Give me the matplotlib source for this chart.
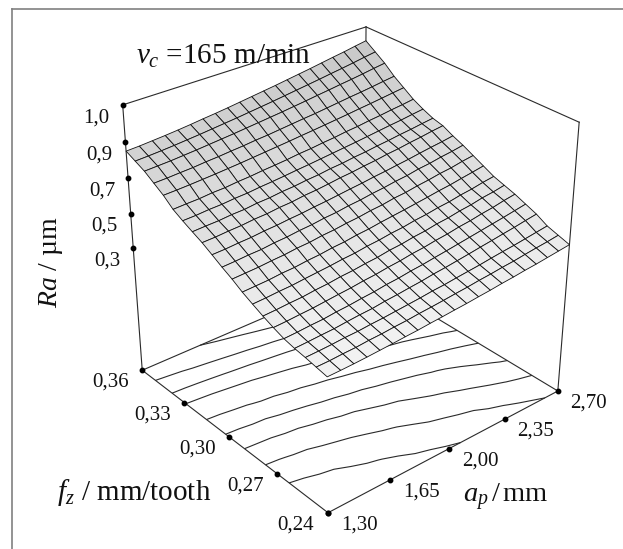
import numpy as np
import matplotlib
matplotlib.use('Agg')
import matplotlib.pyplot as plt
from matplotlib.colors import LinearSegmentedColormap
from matplotlib.lines import Line2D
from mpl_toolkits.mplot3d import proj3d

plt.rcParams['font.family'] = ['Liberation Serif', 'DejaVu Serif']
plt.rcParams['mathtext.fontset'] = 'custom'
plt.rcParams['mathtext.rm'] = 'Liberation Serif'
plt.rcParams['mathtext.it'] = 'Liberation Serif:italic'

# Data
ap = [1.30, 1.37, 1.44, 1.51, 1.58, 1.65, 1.72, 1.79, 1.86, 1.93, 2.00,
      2.07, 2.14, 2.21, 2.28, 2.35, 2.42, 2.49, 2.56, 2.63, 2.70]
fz = [0.240, 0.246, 0.252, 0.258, 0.264, 0.270, 0.276, 0.282, 0.288, 0.294, 0.300,
      0.306, 0.312, 0.318, 0.324, 0.330, 0.336, 0.342, 0.348, 0.354, 0.360]
# one row per fz, one column per ap
Ra = [
    [.320, .321, .323, .326, .330, .334, .339, .343, .349, .354, .360, .365, .372, .378, .386, .392, .400, .406, .414, .422, .430],
    [.332, .333, .337, .339, .345, .348, .354, .358, .365, .370, .376, .383, .389, .397, .403, .411, .417, .426, .434, .441, .450],
    [.344, .346, .349, .354, .356, .362, .366, .372, .378, .384, .392, .397, .405, .412, .419, .428, .436, .443, .452, .461, .470],
    [.354, .357, .361, .364, .371, .377, .381, .390, .396, .404, .411, .421, .428, .437, .446, .456, .465, .475, .484, .495, .505],
    [.368, .371, .376, .379, .387, .392, .400, .406, .416, .422, .432, .439, .449, .458, .468, .478, .488, .498, .508, .519, .530],
    [.390, .393, .398, .402, .409, .416, .422, .431, .437, .447, .454, .465, .472, .483, .491, .503, .511, .523, .532, .545, .555],
    [.415, .418, .423, .426, .434, .439, .448, .453, .462, .468, .479, .485, .496, .503, .515, .522, .534, .542, .555, .563, .575],
    [.443, .446, .451, .454, .461, .467, .473, .481, .486, .496, .502, .512, .518, .529, .536, .547, .554, .566, .574, .586, .595],
    [.472, .475, .478, .485, .488, .496, .501, .510, .515, .525, .531, .541, .549, .557, .566, .575, .585, .593, .604, .614, .625],
    [.507, .510, .513, .519, .523, .531, .535, .544, .549, .558, .564, .574, .580, .591, .597, .608, .616, .627, .634, .646, .655],
    [.537, .540, .545, .547, .555, .559, .567, .572, .581, .586, .596, .602, .612, .619, .629, .636, .648, .655, .666, .674, .685],
    [.570, .572, .577, .580, .587, .591, .598, .603, .611, .617, .625, .633, .640, .649, .656, .665, .673, .683, .692, .700, .710],
    [.602, .604, .609, .612, .619, .622, .630, .634, .643, .648, .656, .665, .671, .680, .687, .697, .704, .714, .722, .732, .740],
    [.628, .631, .633, .639, .641, .649, .652, .660, .664, .672, .677, .686, .691, .700, .706, .715, .722, .731, .738, .747, .755],
    [.655, .657, .662, .664, .670, .673, .680, .685, .691, .698, .704, .711, .718, .725, .732, .740, .748, .756, .763, .772, .780],
    [.685, .688, .690, .696, .698, .705, .709, .716, .721, .727, .735, .740, .748, .754, .763, .769, .778, .785, .794, .801, .810],
    [.730, .732, .735, .739, .743, .748, .753, .759, .765, .771, .777, .784, .790, .797, .804, .811, .819, .826, .834, .842, .850],
    [.765, .767, .771, .774, .780, .784, .790, .795, .802, .807, .814, .821, .828, .834, .842, .850, .858, .865, .873, .882, .890],
    [.800, .803, .806, .811, .816, .822, .828, .834, .841, .848, .855, .862, .870, .878, .887, .895, .904, .912, .921, .931, .940],
    [.825, .828, .832, .837, .843, .849, .856, .863, .870, .878, .886, .894, .903, .912, .921, .930, .940, .949, .959, .970, .980],
    [.850, .853, .858, .863, .869, .876, .884, .891, .899, .908, .917, .926, .935, .945, .955, .965, .976, .987, .997, 1.009, 1.020],
]
contour_levels = [.365, .42, .485, .55, .615, .68, .745, .81, .875]

ap_ticks = [1.30, 1.65, 2.00, 2.35, 2.70]
ap_labels = ['1,30', '1,65', '2,00', '2,35', '2,70']
fz_ticks = [0.24, 0.27, 0.30, 0.33, 0.36]
fz_labels = ['0,24', '0,27', '0,30', '0,33', '0,36']
ra_ticks = [1.1, 0.9, 0.7, 0.5, 0.3]
ra_labels = ['1,0', '0,9', '0,7', '0,5', '0,3']

ap_lim = (1.30, 2.70)
fz_lim = (0.24, 0.36)
ra_lim = (-0.45, 1.10)

W, H = 623, 549
line_col = '#2a2a2a'
greys = LinearSegmentedColormap.from_list('greys', ['#f4f4f4', '#c8c8c8'])

fig = plt.figure(figsize=(W/100, H/100), dpi=100, facecolor='white')

# camera fitted to the box corners of the picture
scale, cx, cy = 2802.506, 348.33, 253.251
ax = fig.add_axes([0, 0, 1, 1], projection='3d', computed_zorder=False)
ax.set_xlim(*ap_lim, view_margin=0)
ax.set_ylim(*fz_lim, view_margin=0)
ax.set_zlim(*ra_lim, view_margin=0)
ax.view_init(elev=29.9443, azim=-130.1465, roll=-0.1055)
ax.set_proj_type('persp', focal_length=0.5845)
ax.set_box_aspect((1.0058, 1.0058, 1.0018))
ax.set_axis_off()
ax.patch.set_alpha(0)
x0, x1 = ax.viewLim.intervalx
y0, y1 = ax.viewLim.intervaly
ax.set_position([(cx + scale*x0)/W, (H - cy + scale*y0)/H,
                 scale*(x1 - x0)/W, scale*(y1 - y0)/H])

X, Y = np.meshgrid(ap, fz)
Z = np.array(Ra)

a0, a1 = ap_lim
f0, f1 = fz_lim
r0, r1 = ra_lim
# box edges that can be seen, all behind the surface except the top ones
edges = [
    ((a0, a0), (f0, f1), (r0, r0)), ((a0, a1), (f0, f0), (r0, r0)),
    ((a0, a1), (f1, f1), (r0, r0)), ((a1, a1), (f0, f1), (r0, r0)),
    ((a0, a0), (f1, f1), (r0, r1)), ((a1, a1), (f0, f0), (r0, r1)),
    ((a1, a1), (f1, f1), (r0, r1)),
    ((a0, a1), (f1, f1), (r1, r1)), ((a1, a1), (f0, f1), (r1, r1)),
]
for ex, ey, ez in edges:
    ax.plot(ex, ey, ez, color=line_col, lw=0.8, zorder=1)

ax.contour(X, Y, Z, levels=contour_levels, zdir='z', offset=r0,
           colors=line_col, linewidths=0.8, zorder=2)

ax.plot_surface(X, Y, Z, rstride=1, cstride=1, cmap=greys, vmin=0.29, vmax=1.02,
                edgecolor='#111111', linewidth=0.6, shade=False, antialiased=True,
                zorder=3)

# tick dots and their labels
M = ax.get_proj()


def ticks_on(xs, ys, zs, labels, dx, dy):
    ax.plot(xs, ys, zs, ls='', marker='o', ms=3.2, color='black', zorder=4)
    px, py, _ = proj3d.proj_transform(np.array(xs, float), np.array(ys, float),
                                      np.array(zs, float), M)
    for u, v, s in zip(px, py, labels):
        ax.annotate(s, (u, v), xytext=(dx, dy), textcoords='offset pixels',
                    ha='center', va='center', fontsize=15, color='#111111',
                    annotation_clip=False, zorder=5)


ticks_on(ap_ticks, [f0]*5, [r0]*5, ap_labels, 31, -12)
ticks_on([a0]*5, fz_ticks, [r0]*5, fz_labels, -32, -12)
ticks_on([a0]*5, [f1]*5, ra_ticks, ra_labels, -26, -13)

# titles, placed in pixels
def label(x, y, s, **kw):
    fig.text(x/W, 1 - y/H, s, color='#111111', va='baseline', **kw)


label(136, 64, r'$\mathit{v_c}$ =165 m/min', fontsize=21, ha='left')
label(57, 500, r'$\mathit{f_z}$ / mm/tooth', fontsize=21, ha='left')
label(463, 502, r'$\mathit{a_p}\,$/$\,$mm', fontsize=20.5, ha='left')
label(57, 308, r'$\mathit{Ra}$ / µm', fontsize=20, ha='left', rotation=90,
      rotation_mode='anchor')

# picture frame, top and left only
fig.add_artist(Line2D([12/W, 12/W], [0, 1 - 8.5/H], color='#808080', lw=1.2))
fig.add_artist(Line2D([12/W, 1], [1 - 8.5/H, 1 - 8.5/H], color='#808080', lw=1.2))

fig.savefig('out.png', dpi=100)
